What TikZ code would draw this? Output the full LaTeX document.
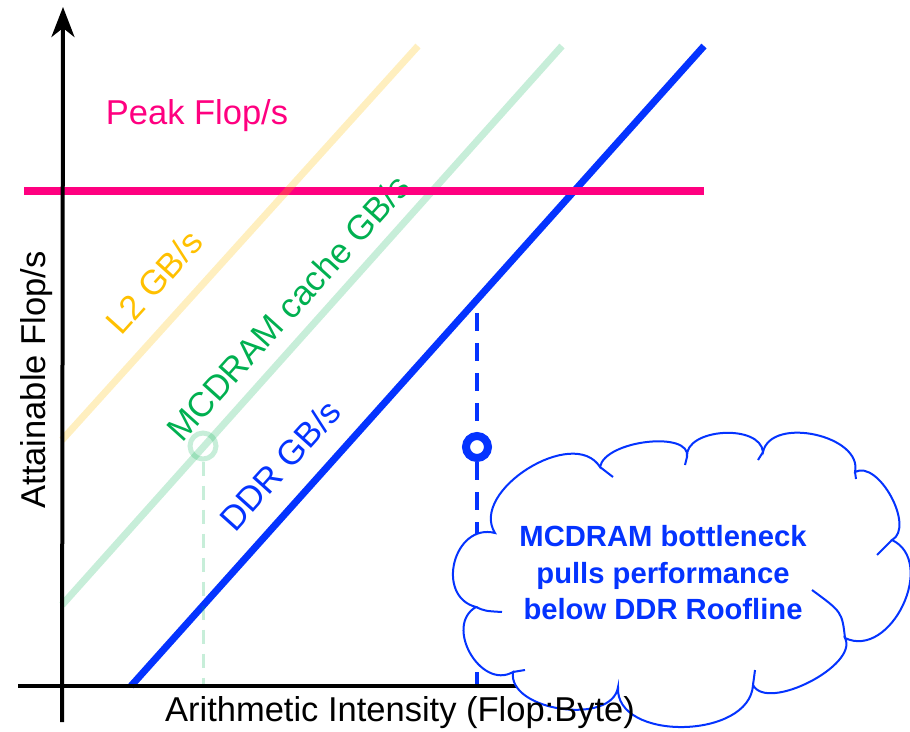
\documentclass[tikz,border=0pt]{standalone}
\usepackage{fontspec}
\setmainfont{Liberation Sans}
\usetikzlibrary{arrows.meta}
\definecolor{peakc}{HTML}{FF0080}
\definecolor{ddrc}{HTML}{0433FF}
\definecolor{mcc}{HTML}{00B050}
\definecolor{l2c}{HTML}{FFC000}
\tikzset{
  axisline/.style={line width=4pt,black},
  roof/.style={line width=7pt},
  lbl/.style={font=\fontsize{34.5}{40}\selectfont,inner sep=0pt},
  cloudline/.style={draw=ddrc,line width=2pt},
}
\begin{document}
\begin{tikzpicture}[x=1pt,y=-1pt]
\useasboundingbox (0,0) rectangle (910,731);
% coordinates
\coordinate (yb) at (62,722);
\coordinate (yt) at (63,7);
\coordinate (xl) at (18,686);
\coordinate (xr) at (660,686);
\coordinate (pkL) at (24,191);
\coordinate (pkR) at (704,191);
\coordinate (ddrA) at (131,686);
\coordinate (ddrB) at (704,46);
\coordinate (mcA) at (62,605);
\coordinate (mcB) at (562,46);
\coordinate (l2A) at (62,440);
\coordinate (l2B) at (418,46);
\coordinate (gBot) at (203,686);
\coordinate (bTop) at (477,313);
\coordinate (bBot) at (477,686);
% MCDRAM roof
\draw[roof,mcc,opacity=0.22] (mcA) -- (mcB);
\node[lbl,text=mcc,rotate=48] (mct) at (288,308) {MCDRAM cache GB/s};
% DDR roof
\draw[roof,ddrc] (ddrA) -- (ddrB);
% peak
\draw[line width=7.5pt,peakc] (pkL) -- (pkR);
% L2 roof
\draw[roof,l2c,opacity=0.25] (l2A) -- (l2B);
% green point and dashed drop
\node[circle,draw=mcc,draw opacity=0.22,line width=5pt,minimum size=26pt,inner sep=0pt] (gpt) at (203,446) {};
\draw[mcc,opacity=0.22,line width=3pt,dash pattern=on 14pt off 10pt] (gpt.south) -- (gBot);
% blue point and dashed line
\node[circle,draw=ddrc,line width=8pt,minimum size=22pt,inner sep=0pt] (bpt) at (477,447) {};
\draw[ddrc,line width=4pt,dash pattern=on 18pt off 12pt] (bTop) -- (bpt.north);
\draw[ddrc,line width=4pt,dash pattern=on 18pt off 12pt] (bpt.south) -- (bBot);
% axes
\draw[axisline] (xl) -- (xr);
\draw[axisline,-{Stealth[length=30pt,width=23pt,inset=9pt]}] (yb) -- (yt);
% labels
\node[lbl,text=peakc] (pk) at (197,116) {Peak Flop/s};
\node[lbl,text=l2c,rotate=48] (l2t) at (154,282) {L2 GB/s};
\node[lbl,text=ddrc,rotate=48] (ddrt) at (280,465) {DDR GB/s};
\node[lbl,rotate=90] (yl) at (37,380) {Attainable Flop/s};
% cloud outline (puffs as cubic arcs)
\coordinate (j1) at (495,533);
\coordinate (j11) at (476,607);
\coordinate (j10) at (513,672);
\coordinate (j9) at (618,687);
\coordinate (j8) at (753,685);
\coordinate (j7) at (845,638);
\coordinate (j6) at (892,540);
\coordinate (j5) at (855,472);
\coordinate (j4) at (763,452);
\coordinate (j3) at (687,457);
\coordinate (j2) at (600,467);
\draw[cloudline,fill=white]
  (j1) .. controls (453.7,522.4) and (434.7,596.4) .. (j11)
       .. controls (443.6,625.5) and (480.6,690.5) .. (j10)
       .. controls (507.4,711) and (612.4,726) .. (j9)
       .. controls (614.7,741.7) and (749.7,739.7) .. (j8)
       .. controls (767,712.3) and (859,665.3) .. (j7)
       .. controls (890.7,659.9) and (937.7,561.9) .. (j6)
       .. controls (915.4,527.3) and (878.4,459.3) .. (j5)
       .. controls (863,435.5) and (771,415.5) .. (j4)
       .. controls (760.3,423.3) and (684.3,428.3) .. (j3)
       .. controls (691.7,430.3) and (604.7,440.3) .. (j2)
       .. controls (573.7,425.2) and (468.7,491.2) .. (j1)
  -- cycle;
% inner puff stubs
\draw[cloudline] (j11) .. controls (485,611) .. (502,612);
\draw[cloudline] (j10) -- (525,670);
\draw[cloudline] (j8) -- (755,670);
\draw[cloudline] (j7) .. controls (842,612) .. (812,590);
\draw[cloudline] (j6) -- (877,555);
\draw[cloudline] (j5) -- (856,479);
\draw[cloudline] (j4) -- (758,460);
\draw[cloudline] (j3) -- (685,465);
\draw[cloudline] (j2) -- (613,477);
\node[text=ddrc,align=center,font=\fontsize{29.2}{36.5}\selectfont\bfseries] (clt) at (663,573)
  {MCDRAM bottleneck\\pulls performance\\below DDR Roofline};
% x label over cloud
\node[lbl] (xlb) at (400,713) {Arithmetic Intensity (Flop:Byte)};
\end{tikzpicture}
\end{document}
